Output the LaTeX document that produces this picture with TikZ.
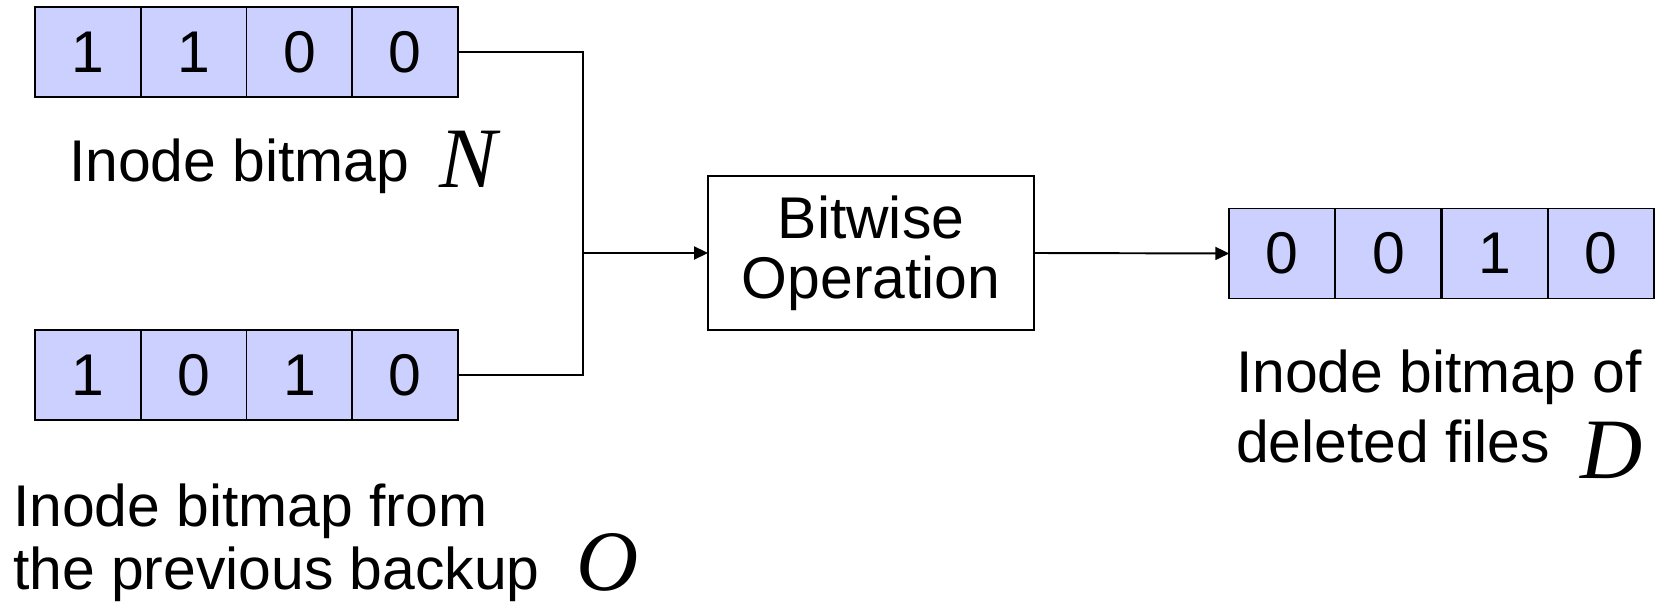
\documentclass[tikz,border=0pt]{standalone}
\usepackage{fontspec}
\setmainfont{Liberation Sans}
\newfontfamily\varfont{Liberation Serif}
\usetikzlibrary{arrows.meta}
\definecolor{bitfill}{RGB}{204,208,255}
\begin{document}
\begin{tikzpicture}
  [x=0.02cm,y=-0.02cm,line width=1.1pt,
   every node/.style={font=\fontsize{33.5}{41}\selectfont,inner sep=0pt,outer sep=0pt}]
  \tikzstyle{bitcell} = [draw,fill=bitfill,minimum width=2.115cm,minimum height=1.8cm]
  \tikzstyle{opbox} = [draw,minimum width=6.52cm,minimum height=3.08cm,align=center]
  \tikzstyle{label} = [anchor=base west]
  \tikzstyle{var} = [anchor=base west,font=\fontsize{49}{49}\selectfont\varfont\itshape]
  \useasboundingbox (0,0) rectangle (1657,604);
\foreach \bit [count=\i] in {1,1,0,0}
   \node[bitcell] (n\i) at ({35+105.75*(\i-0.5)},52) {\bit};
\foreach \bit [count=\i] in {1,0,1,0}
   \node[bitcell] (o\i) at ({35+105.75*(\i-0.5)},375) {\bit};
\foreach \bit [count=\i] in {0,0,1,0}
   \node[bitcell] (d\i) at ({1229+106.25*(\i-0.5)},253.5) {\bit};
  \node[opbox] (op) at (871,253) {Bitwise\\[-7pt]Operation};
  \coordinate (join) at (583,253);
  % labels
  \node[label] (lblN) at (69,182) {Inode bitmap};
  \node[var] (varN) at (439,188) {N};
  \node[label] (lblO1) at (13,526) {Inode bitmap from};
  \node[label] (lblO2) at (13,589) {the previous backup};
  \node[var] (varO) at (576,590) {O};
  \node[label] (lblD1) at (1236,393) {Inode bitmap of};
  \node[label] (lblD2) at (1236,462) {deleted files};
  \node[var] (varD) at (1580,479) {D};
  % connectors
  \draw (n4.east) -| (join);
  \draw (o4.east) -| (join);
  \draw[-{Triangle[length=0.28cm,width=0.26cm]}] (join) -- (op.west);
  \draw[-{Triangle[length=0.28cm,width=0.26cm]}] (op.east) -- (d1.west);
\end{tikzpicture}
\end{document}
